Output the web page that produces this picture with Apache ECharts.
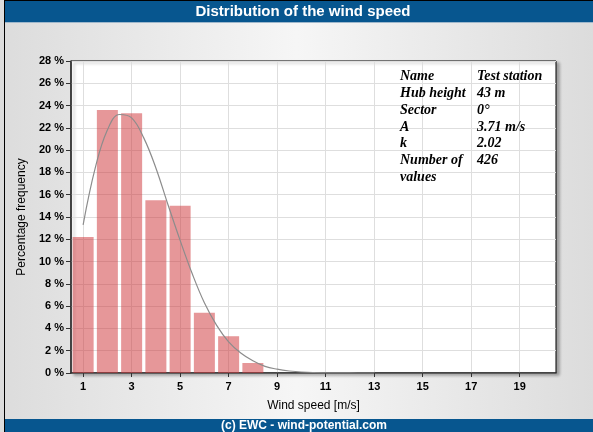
<!DOCTYPE html>
<html>
<head>
<meta charset="utf-8">
<script src="https://cdn.jsdelivr.net/npm/echarts@6/dist/echarts.min.js"></script>
<style>
  html, body { margin: 0; padding: 0; }
  #chart { width: 593px; height: 432px; }
</style>
</head>
<body>
<div id="chart"></div>
<script>
// measured frequencies per wind speed class
const speeds = [1, 2, 3, 4, 5, 6, 7, 8];
const freqs = [12.2, 23.6, 23.3, 15.5, 15.0, 5.4, 3.3, 0.9];

// fitted distribution curve
const curveX = [1, 1.5, 2, 2.5, 3, 3.5, 4, 4.5, 5, 5.5, 6, 6.5, 7, 7.5, 8, 8.5, 9, 9.5, 10, 11, 12, 13];
const curveY = [13.3, 18.4, 21.8, 23.2, 22.9, 21.1, 18.4, 15.1, 11.9, 8.9, 6.3, 4.3, 2.8, 1.8, 1.1, 0.6, 0.34, 0.18, 0.09, 0.02, 0.004, 0];

const xTicks = [1, 3, 5, 7, 9, 11, 13, 15, 17, 19];

const infoRows = [
  ['Name', 'Test station'],
  ['Hub height', '43 m'],
  ['Sector', '0°'],
  ['A', '3.71 m/s'],
  ['k', '2.02'],
  ['Number of', '426'],
  ['values', '']
];

const chart = echarts.init(document.getElementById('chart'));

const blue = '#07568f';
const infoFont = 'italic bold 14px "Liberation Serif", "DejaVu Serif", serif';

const graphics = [
  { type: 'rect', shape: { x: 4, y: 0, width: 589, height: 22 }, style: { fill: '#000' }, silent: true },
  { type: 'rect', shape: { x: 5, y: 1, width: 588, height: 21 }, style: { fill: blue }, silent: true },
  { type: 'rect', shape: { x: 5, y: 22, width: 588, height: 1 }, style: { fill: '#9fb8cc' }, silent: true },
  { type: 'rect', shape: { x: 4, y: 22, width: 1, height: 410 }, style: { fill: '#000' }, silent: true },
  { type: 'rect', shape: { x: 5, y: 419, width: 588, height: 13 }, style: { fill: blue }, silent: true },
  {
    type: 'text', x: 303, y: 12,
    style: { text: 'Distribution of the wind speed', fill: '#fff', font: 'bold 15px "Liberation Sans", Arial, sans-serif', align: 'center', verticalAlign: 'middle' }
  },
  {
    type: 'text', x: 304, y: 426,
    style: { text: '(c) EWC - wind-potential.com', fill: '#fff', font: 'bold 12px "Liberation Sans", Arial, sans-serif', align: 'center', verticalAlign: 'middle' }
  }
];

infoRows.forEach((row, i) => {
  const y = 76.5 + i * 16.8;
  graphics.push({
    type: 'text', x: 400, y: y, z: 100,
    style: { text: row[0], fill: '#000', font: infoFont, verticalAlign: 'middle' }
  });
  if (row[1]) {
    graphics.push({
      type: 'text', x: 477, y: y, z: 100,
      style: { text: row[1], fill: '#000', font: infoFont, verticalAlign: 'middle' }
    });
  }
});

const option = {
  animation: false,
  backgroundColor: new echarts.graphic.LinearGradient(0, 0, 1, 0, [
    { offset: 0, color: '#dcdcdc' },
    { offset: 0.5, color: '#f6f6f6' },
    { offset: 1, color: '#dcdcdc' }
  ]),
  textStyle: { fontFamily: '"Liberation Sans", Arial, sans-serif' },
  graphic: graphics,
  grid: {
    left: 71, top: 61, right: 37, bottom: 59,
    show: true,
    backgroundColor: '#fff',
    borderColor: '#000',
    borderWidth: 1,
    shadowColor: 'rgba(0,0,0,0.3)',
    shadowBlur: 3,
    shadowOffsetX: 3,
    shadowOffsetY: 2
  },
  xAxis: {
    type: 'value',
    min: 0.5,
    max: 20.5,
    name: 'Wind speed [m/s]',
    nameLocation: 'middle',
    nameGap: 27,
    nameTextStyle: { color: '#000', fontSize: 12 },
    axisLine: { lineStyle: { color: '#333', width: 1.5 } },
    axisTick: { show: true, length: 4, lineStyle: { color: '#333' }, customValues: xTicks },
    axisLabel: { color: '#000', fontSize: 11, fontWeight: 'bold', margin: 8, customValues: xTicks },
    splitLine: { show: true, lineStyle: { color: '#dedede', width: 1 } }
  },
  yAxis: {
    type: 'value',
    min: 0,
    max: 28,
    interval: 2,
    name: 'Percentage frequency',
    nameLocation: 'middle',
    nameGap: 42,
    nameTextStyle: { color: '#000', fontSize: 12 },
    axisLine: { show: true, lineStyle: { color: '#333', width: 1.5 } },
    axisTick: { show: true, length: 5, lineStyle: { color: '#333' } },
    axisLabel: { color: '#000', fontSize: 11, fontWeight: 'bold', margin: 7, formatter: '{value} %' },
    splitLine: { show: true, lineStyle: { color: '#dedede', width: 1 } }
  },
  series: [
    {
      type: 'bar',
      barWidth: 21,
      itemStyle: { color: 'rgba(208,55,60,0.52)' },
      data: speeds.map((s, i) => [s, freqs[i]])
    },
    {
      type: 'line',
      smooth: 0.4,
      showSymbol: false,
      z: 5,
      lineStyle: { color: '#8c8c8c', width: 1.2 },
      data: curveX.map((x, i) => [x, curveY[i]])
    }
  ]
};

chart.setOption(option);
</script>
</body>
</html>
